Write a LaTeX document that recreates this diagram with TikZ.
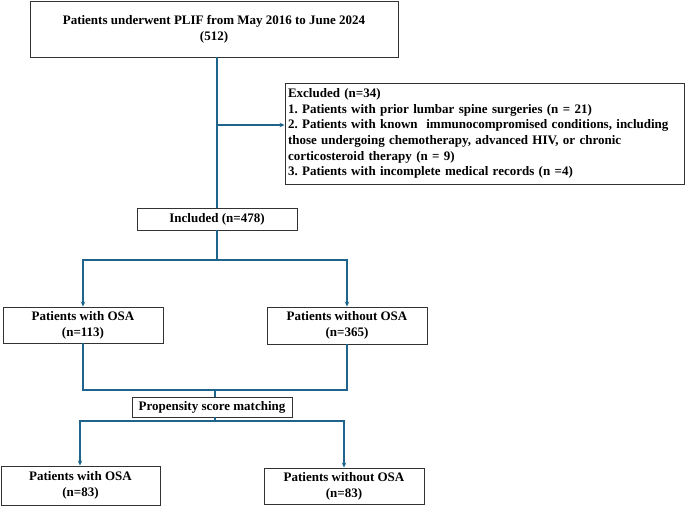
\documentclass[tikz,border=0pt]{standalone}
\usepackage{fontspec}
\setmainfont{Liberation Serif}
\usetikzlibrary{arrows.meta}
\definecolor{flow}{RGB}{30,100,140}
\definecolor{boxline}{RGB}{50,50,50}
\frenchspacing
\begin{document}
\begin{tikzpicture}[x=1pt,y=-1pt,
  box/.style={draw=boxline,line width=0.9pt,rectangle,inner sep=0pt,align=center,font=\fontsize{13}{16}\selectfont\bfseries},
  link/.style={draw=flow,line width=1.6pt},
  arr/.style={link,-{Stealth[length=5pt,width=4.5pt]}}]
\useasboundingbox (0,0) rectangle (685,506);
\node[box,minimum width=368pt,minimum height=56pt] (top) at (214,29) {Patients underwent PLIF from May 2016 to June 2024\\(512)};
\node[box,minimum width=399pt,minimum height=101pt,align=left,inner xsep=3pt,text width=393pt,font=\fontsize{13}{15.6}\selectfont\bfseries] (excl) at (484.5,133.5) {Excluded (n=34)\\1. Patients with prior lumbar spine surgeries (n = 21)\\2. Patients with known \ immunocompromised conditions, including\\those undergoing chemotherapy, advanced HIV, or chronic\\corticosteroid therapy (n = 9)\\3. Patients with incomplete medical records (n =4)\par\vspace{10pt}};
\node[box,minimum width=160pt,minimum height=22pt] (incl) at (217,219) {Included (n=478)};
\node[box,minimum width=160pt,minimum height=36pt] (osa1) at (83,325) {Patients with OSA\\(n=113)};
\node[box,minimum width=160pt,minimum height=37pt] (nosa1) at (347,325.5) {Patients without OSA\\(n=365)};
\node[box,minimum width=160pt,minimum height=20pt] (psm) at (212,407) {Propensity score matching};
\node[box,minimum width=159pt,minimum height=39pt] (osa2) at (80.5,485.5) {Patients with OSA\\(n=83)};
\node[box,minimum width=160pt,minimum height=36pt] (nosa2) at (344,486) {Patients without OSA\\(n=83)};
\coordinate (ex) at (217,125);
\coordinate (b1) at (217,260);
\coordinate (m1) at (215,390);
\coordinate (b2) at (215,421);
\draw[link] (top.south -| incl.north) -- (incl.north);
\draw[arr] (ex) -- (excl.west |- ex);
\draw[link] (incl.south) -- (b1);
\draw[arr] (b1) -| (osa1.north);
\draw[arr] (b1) -| (nosa1.north);
\draw[link] (osa1.south) |- (m1) -| (nosa1.south);
\draw[link] (m1) -- (m1 |- psm.north);
\draw[link] (b2 |- psm.south) -- (b2);
\draw[arr] (b2) -| ([xshift=-0.5pt]osa2.north);
\draw[arr] (b2) -| (nosa2.north);
\end{tikzpicture}
\end{document}
